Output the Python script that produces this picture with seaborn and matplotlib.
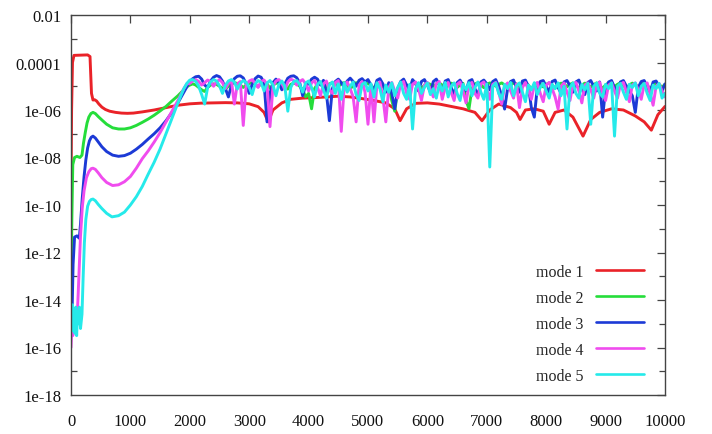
import numpy as np
import pandas as pd
import matplotlib
matplotlib.use("Agg")
import matplotlib.pyplot as plt
import seaborn as sns
from matplotlib.ticker import FixedLocator, FixedFormatter, NullFormatter
from matplotlib.lines import Line2D

# ---------------- data (log10 of the plotted quantity) ----------------
mode_names = ["mode 1", "mode 2", "mode 3", "mode 4", "mode 5"]
mode_colors = ["#ea2228", "#25dd3a", "#1c3ad6", "#f04cee", "#25eaea"]

x_ticks = [0, 1000, 2000, 3000, 4000, 5000, 6000, 7000, 8000, 9000, 10000]
y_tick_values = [1e-2, 1e-4, 1e-6, 1e-8, 1e-10, 1e-12, 1e-14, 1e-16, 1e-18]
y_tick_labels = ["0.01", "0.0001", "1e-06", "1e-08", "1e-10", "1e-12", "1e-14", "1e-16", "1e-18"]
y_minor_values = [1e-3, 1e-5, 1e-7, 1e-9, 1e-11, 1e-13, 1e-15, 1e-17]

# mode 1 (smooth)
mode1_x = [0, 10, 25, 50, 280, 320, 345, 370, 400, 430, 470, 520, 580, 650, 750, 850, 950, 1050,
           1200, 1400, 1600, 1800, 2000, 2200, 2400, 2600, 2800, 3000, 3150, 3250, 3320, 3400,
           3550, 3700, 3900, 4100, 4300, 4500, 4700, 4900, 5100, 5300, 5450, 5540, 5650, 5800,
           6000, 6200, 6400, 6600, 6800, 6920, 7050, 7200, 7400, 7500, 7560, 7650, 7800, 7950,
           8050, 8150, 8300, 8450, 8620, 8750, 8900, 9100, 9300, 9500, 9650, 9770, 9880, 10000]
mode1_log = [-9.3, -6.0, -4.0, -3.7, -3.68, -3.75, -5.3, -5.58, -5.57, -5.62, -5.75, -5.88, -5.98,
             -6.05, -6.1, -6.13, -6.14, -6.13, -6.08, -6.0, -5.9, -5.8, -5.74, -5.71, -5.7,
             -5.69, -5.7, -5.74, -5.86, -6.1, -6.5, -6.0, -5.7, -5.55, -5.5, -5.48, -5.45, -5.42,
             -5.45, -5.52, -5.6, -5.7, -5.95, -6.45, -5.95, -5.72, -5.7, -5.75, -5.85, -5.95,
             -6.1, -6.45, -6.0, -5.75, -5.9, -6.1, -6.4, -6.0, -5.95, -6.05, -6.6, -6.1, -6.0,
             -6.3, -7.1, -6.4, -6.1, -5.95, -6.0, -6.25, -6.5, -6.85, -6.2, -5.85]

# early (transient) parts of modes 2-5
mode2_x_early = [0, 15, 30, 60, 100, 150, 185, 210, 240, 270, 300, 335, 370, 410, 460, 520, 600,
                 700, 800, 900, 1000, 1100, 1200, 1300, 1400, 1500, 1600, 1700, 1800, 1900, 1950]
mode2_log_early = [-13.5, -10.5, -8.3, -8.0, -7.95, -8.0, -7.9, -7.4, -6.95, -6.55, -6.3, -6.15,
                   -6.1, -6.15, -6.28, -6.42, -6.6, -6.75, -6.8, -6.8, -6.75, -6.65, -6.52, -6.38,
                   -6.22, -6.04, -5.85, -5.62, -5.4, -5.15, -5.02]

mode3_x_early = [0, 20, 35, 60, 100, 140, 160, 190, 220, 250, 280, 310, 340, 370, 410, 460, 520,
                 600, 700, 800, 900, 1000, 1100, 1200, 1300, 1400, 1500, 1600, 1700, 1800, 1900,
                 1950]
mode3_log_early = [-15.5, -14.3, -12.5, -11.35, -11.3, -11.4, -10.8, -9.7, -8.8, -8.1, -7.6,
                   -7.3, -7.15, -7.1, -7.18, -7.35, -7.55, -7.75, -7.9, -7.95, -7.92, -7.82,
                   -7.65, -7.45, -7.22, -7.0, -6.75, -6.45, -6.1, -5.7, -5.25, -5.02]

mode4_x_early = [0, 15, 30, 45, 60, 80, 100, 120, 140, 160, 190, 220, 260, 300, 340, 370, 410,
                 460, 520, 600, 700, 800, 900, 1000, 1100, 1200, 1300, 1400, 1500, 1600, 1700,
                 1800, 1900, 1950]
mode4_log_early = [-16.0, -15.0, -15.5, -14.6, -15.2, -14.5, -14.9, -13.8, -12.5, -11.3, -10.1,
                   -9.4, -8.85, -8.6, -8.47, -8.45, -8.5, -8.65, -8.85, -9.05, -9.18, -9.15,
                   -9.02, -8.8, -8.45, -8.05, -7.72, -7.35, -6.95, -6.5, -6.05, -5.6, -5.1, -4.9]

mode5_x_early = [0, 15, 25, 35, 50, 65, 80, 95, 110, 125, 140, 160, 185, 205, 225, 250, 280, 310,
                 340, 370, 410, 460, 520, 600, 690, 800, 900, 1000, 1100, 1200, 1300, 1400, 1500,
                 1600, 1700, 1800, 1900, 1950]
mode5_log_early = [-14.5, -15.3, -14.2, -15.1, -14.4, -15.4, -14.3, -15.5, -14.5, -15.0, -14.3,
                   -15.2, -14.6, -13.0, -11.6, -10.6, -10.05, -9.85, -9.77, -9.75, -9.82, -9.98,
                   -10.15, -10.35, -10.5, -10.45, -10.3, -10.0, -9.65, -9.22, -8.7, -8.2, -7.64,
                   -7.0, -6.35, -5.7, -5.1, -4.88]

# later (fluctuating) parts, sampled every 50 from 2000 to 10000
late_x = list(range(2000, 10001, 50))

mode2_log_late = [
    -4.95, -4.90, -4.95, -5.05, -5.15, -5.22, -5.05, -4.95, -4.90, -4.92, -5.00, -5.08, -5.12, -5.00, -4.90, -4.85, -4.88, -4.95, -5.05, -4.95,
    -4.88, -4.85, -4.92, -5.02, -4.90, -4.85, -4.90, -5.08, -4.95, -4.88, -4.85, -4.90, -4.98, -5.12, -4.92, -4.87, -4.90, -5.00, -5.15, -5.45,
    -5.30, -5.95, -5.10, -4.90, -4.85, -4.95, -5.05, -4.90, -4.85, -4.92, -5.02, -4.88, -4.85, -4.94, -5.12, -4.96, -4.85, -4.90, -5.02, -4.92,
    -4.88, -4.96, -5.08, -4.92, -4.87, -5.00, -5.20, -4.95, -5.60, -6.05, -5.15, -4.92, -4.86, -4.95, -5.05, -4.90, -4.86, -4.93, -5.10, -4.95,
    -4.87, -4.92, -5.04, -4.90, -4.86, -4.95, -5.10, -4.93, -4.87, -4.92, -5.05, -4.95, -4.88, -5.60, -5.95, -5.10, -4.90, -4.86, -4.94, -5.06,
    -4.92, -4.86, -4.90, -5.00, -4.92, -4.86, -4.94, -5.08, -4.95, -4.87, -4.90, -5.02, -4.92, -4.86, -4.95, -5.12, -4.94, -4.87, -4.91, -5.03,
    -4.92, -4.86, -4.95, -5.08, -4.93, -4.87, -4.90, -5.02, -4.92, -4.86, -4.94, -5.10, -4.95, -4.87, -4.91, -5.04, -4.93, -4.86, -4.95, -5.09,
    -4.94, -4.87, -4.90, -5.02, -4.92, -4.86, -4.95, -5.12, -4.94, -4.87, -4.91, -5.05, -4.93, -4.86, -4.95, -5.10, -4.95, -4.87, -4.92, -5.04, -4.92]

mode3_log_late = [
    -4.80, -4.68, -4.60, -4.58, -4.70, -4.95, -5.05, -4.78, -4.62, -4.55, -4.60, -4.78, -5.10, -5.45, -4.95, -4.68, -4.58, -4.56, -4.65, -4.90,
    -5.30, -4.92, -4.68, -4.57, -4.62, -4.85, -6.50, -5.30, -4.85, -4.70, -4.85, -5.15, -4.90, -4.66, -4.58, -4.56, -4.64, -4.85, -5.40, -4.95,
    -4.90, -4.70, -4.62, -4.70, -4.95, -4.75, -5.30, -6.45, -5.10, -4.80, -4.70, -4.85, -5.05, -4.78, -4.66, -4.80, -5.00, -4.75, -4.68, -4.82,
    -4.72, -4.95, -5.20, -4.75, -4.68, -4.90, -5.25, -4.85, -5.30, -5.95, -5.10, -4.80, -4.70, -4.95, -5.15, -4.72, -4.88, -5.20, -4.80, -4.72,
    -4.95, -5.25, -4.80, -4.70, -4.92, -5.30, -4.78, -4.72, -5.05, -5.35, -4.85, -4.74, -4.98, -5.20, -4.78, -4.72, -5.10, -5.40, -4.82, -4.74,
    -4.90, -5.15, -4.80, -4.72, -5.00, -5.40, -5.96, -5.10, -4.80, -4.74, -5.05, -5.25, -4.78, -4.74, -5.00, -5.90, -6.30, -5.05, -4.80, -4.76,
    -5.00, -5.25, -4.80, -4.74, -5.05, -5.30, -4.82, -4.76, -4.98, -5.25, -4.82, -4.74, -5.10, -5.35, -4.84, -4.76, -5.00, -5.20, -4.82, -6.30,
    -5.10, -4.82, -4.76, -5.05, -5.30, -4.82, -4.76, -5.00, -5.20, -5.40, -6.10, -5.05, -4.80, -4.76, -5.05, -5.25, -4.82, -4.78, -5.00, -5.20, -4.90]

mode4_log_late = [
    -4.88, -4.78, -4.72, -4.80, -4.95, -4.85, -4.74, -4.80, -5.00, -4.82, -4.72, -4.85, -5.10, -4.88, -4.76, -5.75, -4.90, -4.80, -6.65, -4.95,
    -4.78, -4.72, -4.88, -5.05, -4.80, -4.74, -4.92, -6.70, -5.00, -4.78, -4.72, -4.86, -5.15, -4.82, -4.70, -4.76, -4.95, -4.80, -4.72, -4.90,
    -5.20, -4.86, -4.76, -5.05, -5.40, -4.90, -4.78, -5.15, -5.30, -4.84, -4.76, -6.90, -5.00, -4.82, -5.10, -5.45, -6.50, -4.95, -4.80, -5.25,
    -6.60, -4.92, -6.50, -4.95, -4.82, -5.45, -6.50, -5.05, -4.84, -5.20, -5.50, -4.90, -4.80, -5.30, -5.55, -4.92, -4.82, -5.10, -5.60, -4.95,
    -4.84, -5.15, -5.45, -4.88, -4.80, -5.55, -5.05, -4.84, -5.25, -5.60, -4.92, -4.82, -5.20, -5.70, -4.95, -4.84, -5.30, -5.50, -4.90, -4.82,
    -5.10, -5.55, -4.92, -4.84, -5.25, -5.75, -5.00, -4.86, -5.20, -5.50, -4.90, -5.90, -5.05, -4.84, -5.15, -5.55, -4.95, -4.84, -5.30, -5.65,
    -4.95, -4.84, -5.10, -5.45, -5.96, -5.00, -4.86, -5.25, -5.60, -4.92, -4.84, -5.20, -5.70, -4.95, -4.86, -5.15, -5.50, -4.90, -4.84, -5.30,
    -5.60, -4.95, -4.86, -5.20, -5.50, -4.92, -4.84, -5.25, -5.65, -4.95, -4.86, -5.15, -5.55, -4.92, -4.86, -5.30, -5.80, -5.00, -4.88, -5.20, -5.45]

mode5_log_late = [
    -4.74, -4.72, -4.80, -5.00, -5.35, -5.75, -5.05, -4.82, -4.72, -4.78, -4.98, -5.30, -4.95, -4.78, -4.72, -4.82, -5.12, -4.88, -4.76, -4.84,
    -5.05, -5.35, -4.90, -4.76, -4.84, -5.20, -4.86, -4.76, -4.95, -5.40, -4.92, -4.78, -5.00, -6.05, -5.05, -4.80, -4.76, -4.92, -5.25, -4.86,
    -4.78, -5.05, -5.45, -4.92, -4.80, -5.15, -5.50, -4.95, -4.82, -5.30, -4.90, -5.55, -4.86, -5.25, -5.00, -4.82, -5.35, -5.60, -4.92, -4.84,
    -5.20, -4.90, -5.45, -4.85, -5.10, -5.65, -4.95, -5.25, -4.86, -5.40, -5.05, -4.82, -5.30, -5.55, -4.92, -6.80, -5.10, -4.85, -5.30, -5.05,
    -4.86, -5.35, -5.10, -5.50, -4.90, -5.20, -4.84, -5.45, -5.00, -4.86, -5.30, -5.60, -4.92, -5.15, -4.85, -5.40, -5.05, -4.82, -5.25, -5.55,
    -4.90, -8.40, -5.00, -4.86, -5.30, -5.55, -4.92, -5.10, -4.84, -5.40, -5.00, -4.86, -5.25, -5.65, -4.95, -5.15, -4.85, -5.35, -5.05, -4.88,
    -5.20, -5.50, -4.92, -5.10, -4.86, -5.40, -5.00, -6.80, -5.05, -4.86, -5.30, -5.50, -4.92, -5.15, -4.88, -6.60, -5.00, -4.86, -5.30, -5.45,
    -4.92, -5.10, -4.86, -7.10, -5.00, -4.88, -5.25, -5.55, -4.92, -5.05, -4.86, -5.40, -5.00, -4.88, -5.30, -5.60, -4.95, -5.10, -4.88, -5.50, -5.30]

# ---------------- assemble long table ----------------
series = {
    "mode 1": (mode1_x, mode1_log),
    "mode 2": (mode2_x_early + late_x, mode2_log_early + mode2_log_late),
    "mode 3": (mode3_x_early + late_x, mode3_log_early + mode3_log_late),
    "mode 4": (mode4_x_early + late_x, mode4_log_early + mode4_log_late),
    "mode 5": (mode5_x_early + late_x, mode5_log_early + mode5_log_late),
}
frames = []
for name in mode_names:
    xs, ls = series[name]
    frames.append(pd.DataFrame({"t": xs, "value": np.power(10.0, np.array(ls)), "mode": name}))
df = pd.concat(frames, ignore_index=True)

# ---------------- plot ----------------
sns.set_theme(style="white")
plt.rcParams["font.family"] = ["Liberation Serif", "DejaVu Serif"]
plt.rcParams["font.size"] = 12

fig = plt.figure(figsize=(7.12, 4.35), dpi=100)
ax = fig.add_axes([71 / 712, 1 - 396 / 435, (665 - 71) / 712, (396 - 16) / 435])

sns.lineplot(data=df, x="t", y="value", hue="mode", hue_order=mode_names,
             palette=dict(zip(mode_names, mode_colors)), estimator=None, sort=False,
             linewidth=2.1, legend=False, ax=ax)

ax.set_yscale("log")
ax.set_xlim(0, 10000)
ax.set_ylim(1e-18, 1e-2)
ax.set_xlabel("")
ax.set_ylabel("")

ax.xaxis.set_major_locator(FixedLocator(x_ticks))
ax.set_xticklabels([str(v) for v in x_ticks])
ax.yaxis.set_major_locator(FixedLocator(y_tick_values))
ax.yaxis.set_major_formatter(FixedFormatter(y_tick_labels))
ax.yaxis.set_minor_locator(FixedLocator(y_minor_values))
ax.yaxis.set_minor_formatter(NullFormatter())
ax.xaxis.set_minor_locator(FixedLocator([]))

ax.tick_params(axis="both", which="major", direction="in", length=6, width=0.9,
               top=True, right=True, colors="#444444", labelcolor="#111111", labelsize=12)
ax.tick_params(axis="x", which="major", pad=13)
ax.tick_params(axis="y", which="major", pad=7)
ax.tick_params(axis="y", which="minor", direction="in", length=4, width=0.9,
               left=True, right=True, colors="#444444")
for sp in ax.spines.values():
    sp.set_color("#444444")
    sp.set_linewidth(1.0)
ax.grid(False)

handles = [Line2D([0], [0], color=c, linewidth=1.9) for c in mode_colors]
leg = ax.legend(handles, mode_names, loc="lower right", bbox_to_anchor=(0.965, 0.03),
                frameon=False, markerfirst=False, handlelength=3.0, handletextpad=0.8,
                labelspacing=0.62, borderaxespad=0.0, borderpad=0.0, fontsize=11.5)

fig.savefig("out.png", dpi=100)
